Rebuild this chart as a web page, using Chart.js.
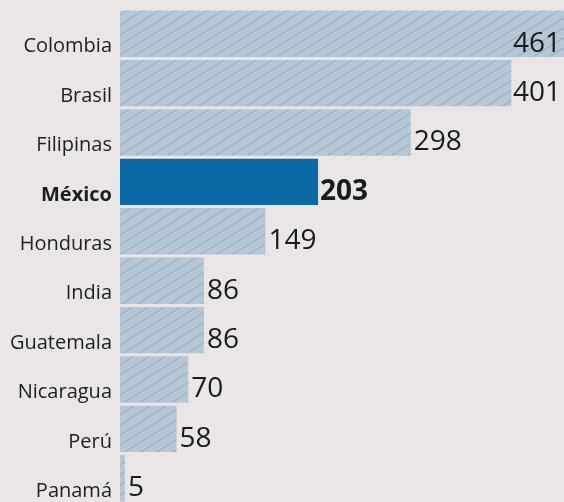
<!DOCTYPE html>
<html>
<head>
<meta charset="utf-8">
<script src="https://cdn.jsdelivr.net/npm/chart.js@4/dist/chart.umd.min.js"></script>
<style>
  html, body { margin: 0; padding: 0; background: #ebe6e6; overflow: hidden; }
  #wrap { width: 564px; height: 502px; overflow: hidden; }
  canvas { display: block; }
</style>
</head>
<body>
<div id="wrap"><canvas id="c" width="564" height="504"></canvas></div>
<script>
const categories = ['Colombia', 'Brasil', 'Filipinas', 'México', 'Honduras', 'India', 'Guatemala', 'Nicaragua', 'Perú', 'Panamá'];
const values = [461, 401, 298, 203, 149, 86, 86, 70, 58, 5];
const highlighted = 'México';

function hatchPattern() {
  const w = 16, h = 10;
  const p = document.createElement('canvas');
  p.width = w; p.height = h;
  const g = p.getContext('2d');
  g.fillStyle = '#b6c7d6';
  g.fillRect(0, 0, w, h);
  g.strokeStyle = 'rgba(90,110,140,0.45)';
  g.lineWidth = 0.8;
  g.beginPath();
  g.moveTo(-w, 2 * h); g.lineTo(2 * w, -h);
  g.moveTo(-2 * w, 2 * h); g.lineTo(w, -h);
  g.moveTo(0, 2 * h); g.lineTo(3 * w, -h);
  g.stroke();
  return g.createPattern(p, 'repeat');
}
const hatch = hatchPattern();

const valueLabels = {
  id: 'valueLabels',
  afterDatasetsDraw(chart) {
    const ctx = chart.ctx;
    const meta = chart.getDatasetMeta(0);
    ctx.save();
    ctx.textBaseline = 'middle';
    ctx.fillStyle = '#1a1a1a';
    meta.data.forEach((bar, i) => {
      const bold = categories[i] === highlighted;
      ctx.font = (bold ? 'bold ' : '') + '28px "Open Sans"';
      const txt = String(values[i]);
      const tw = ctx.measureText(txt).width;
      let x = bar.x + (bold ? 2 : 3);
      if (x + tw > chart.width - 3) x = chart.width - 3 - tw;
      ctx.fillText(txt, x, bar.y + 10);
    });
    ctx.restore();
  }
};

new Chart(document.getElementById('c'), {
  type: 'bar',
  data: {
    labels: categories,
    datasets: [{
      data: values,
      backgroundColor: categories.map(c => c === highlighted ? '#0b6aa5' : hatch),
      borderWidth: 0,
      barPercentage: 0.94,
      categoryPercentage: 1.0
    }]
  },
  options: {
    indexAxis: 'y',
    responsive: false,
    animation: false,
    layout: { padding: { top: 9, bottom: 1, left: 0, right: 0 } },
    plugins: { legend: { display: false }, tooltip: { enabled: false } },
    scales: {
      x: {
        display: false,
        min: 0,
        max: 455,
        grid: { display: false }
      },
      y: {
        grid: { display: false, drawTicks: false },
        border: { display: false },
        afterFit: s => { s.width = 120; s.paddingTop = 0; s.paddingBottom = 0; },
        ticks: {
          padding: 8,
          labelOffset: 13,
          color: '#1e1e1e',
          font: ctx => ({
            family: '"Open Sans"',
            size: 20,
            weight: categories[ctx.index] === highlighted ? 'bold' : 'normal'
          })
        }
      }
    }
  },
  plugins: [valueLabels]
});
</script>
</body>
</html>
